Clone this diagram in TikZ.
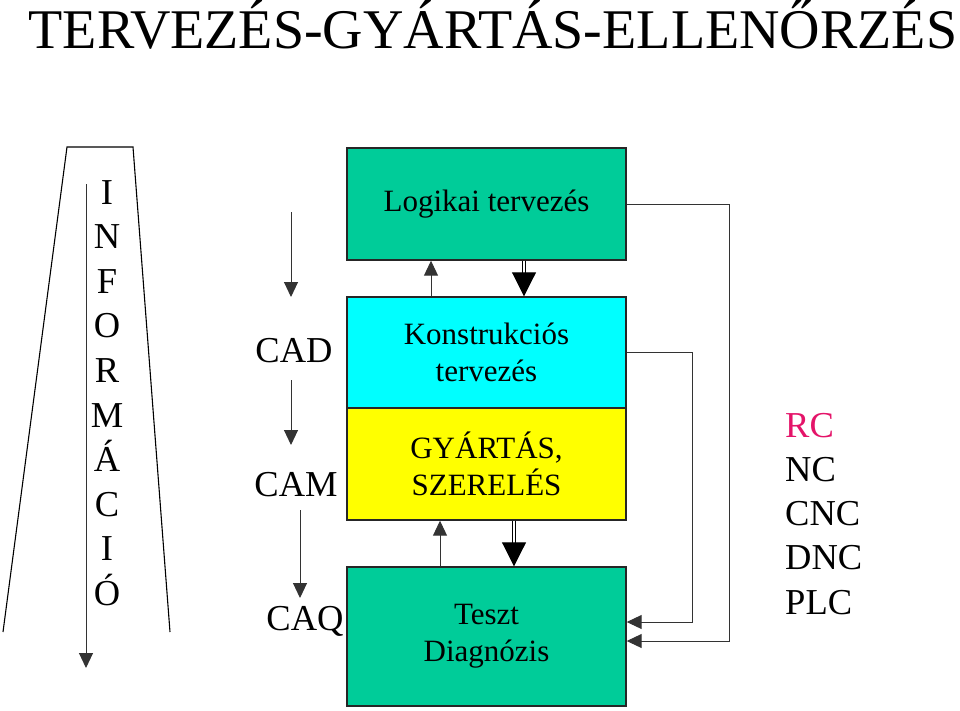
\documentclass[tikz,border=0pt]{standalone}
\usepackage{fontspec}
\setmainfont{Liberation Serif}
\usetikzlibrary{arrows.meta}
\definecolor{zold}{RGB}{0,204,153}
\definecolor{kek}{RGB}{0,255,255}
\definecolor{sarga}{RGB}{255,255,0}
\definecolor{piros}{RGB}{228,20,105}

\begin{document}
\begin{tikzpicture}[x=1pt,y=-1pt,
  blokk/.style={draw=black!85,line width=1.4pt,minimum width=279pt,inner sep=0pt,align=center,font=\fontsize{31}{37}\selectfont},
  nyil/.style={-{Triangle[width=14pt,length=15pt]},line width=1pt,black!80},
  dupla/.style={double,double distance=2.5pt,line width=0.9pt,-{Triangle[width=24pt,length=24pt]}},
  felirat/.style={font=\fontsize{36.5}{44}\selectfont,anchor=base,inner sep=0pt}]
\useasboundingbox (0,0) rectangle (960,710);

% cim
\node[font=\fontsize{56}{60}\selectfont,anchor=base,inner sep=0pt] (cim) at (493,48) {TERVEZÉS-GYÁRTÁS-ELLENŐRZÉS};

% informacio
\draw[line width=1.1pt] (3,632) -- (67,147) -- (133,147) -- (170,632);
\coordinate (info top) at (86,184);
\coordinate (info bottom) at (86,668);
\draw[nyil] (info top) -- (info bottom);
\foreach \betu [count=\i from 0] in {I,N,F,O,R,M,Á,C,I,Ó}
  \node[felirat] (info\i) at (107,{204+44.6*\i}) {\betu};

% CAD, CAM, CAQ
\node[felirat] (cad) at (294,362) {CAD};
\node[felirat] (cam) at (296,496) {CAM};
\node[felirat] (caq) at (305,630) {CAQ};
\coordinate (a1) at (291,212); \coordinate (b1) at (291,297);
\coordinate (a2) at (291,380); \coordinate (b2) at (291,445);
\coordinate (a3) at (300,510); \coordinate (b3) at (300,598);
\draw[nyil] (a1) -- (b1);
\draw[nyil] (a2) -- (b2);
\draw[nyil] (a3) -- (b3);

% blokkok
\node[blokk,fill=zold,minimum height=112pt] (logikai) at (486.5,204) {Logikai tervezés};
\node[blokk,fill=kek,minimum height=111pt] (konstr) at (486.5,352.5) {Konstrukciós\\tervezés};
\node[blokk,fill=sarga,minimum height=112pt] (gyartas) at (486.5,464) {GYÁRTÁS,\\SZERELÉS};
\node[blokk,fill=zold,minimum height=139pt] (teszt) at (486.5,636.5) {Teszt\\Diagnózis};

\draw[nyil] ([xshift=-55.5pt]konstr.north) -- ([xshift=-55.5pt]logikai.south);
\draw[dupla] ([xshift=37.5pt]logikai.south) -- ([xshift=37.5pt]konstr.north);
\draw[nyil] ([xshift=-46.5pt]teszt.north) -- ([xshift=-46.5pt]gyartas.south);
\draw[dupla] ([xshift=27.5pt]gyartas.south) -- ([xshift=27.5pt]teszt.north);

% visszacsatolas
\draw[nyil] (logikai.east) -- ++(103,0) |- ([yshift=-4.5pt]teszt.east);
\draw[nyil] (konstr.east) -- ++(66,0) |- ([yshift=14.5pt]teszt.east);

% vezerlesek
\node[felirat,anchor=base west,text=piros] (rc) at (785,437) {RC};
\node[felirat,anchor=base west] (nc) at (785,481) {NC};
\node[felirat,anchor=base west] (cnc) at (785,525) {CNC};
\node[felirat,anchor=base west] (dnc) at (785,569) {DNC};
\node[felirat,anchor=base west] (plc) at (785,614) {PLC};
\end{tikzpicture}
\end{document}
